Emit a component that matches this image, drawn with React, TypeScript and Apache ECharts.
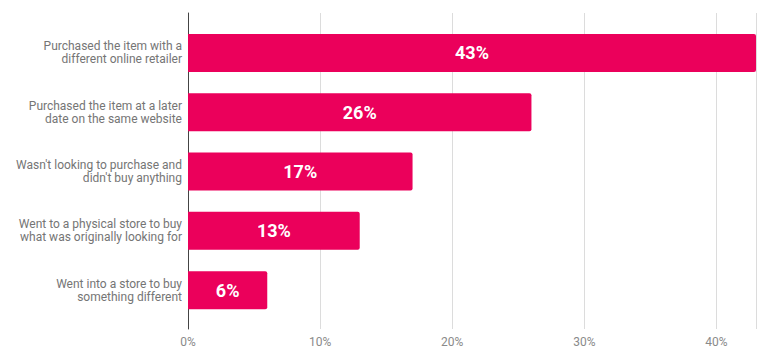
import React, { useEffect, useRef } from "react";
import * as echarts from "echarts";

const categories = [
  "Purchased the item with a\ndifferent online retailer",
  "Purchased the item at a later\ndate on the same website",
  "Wasn't looking to purchase and\ndidn't buy anything",
  "Went to a physical store to buy\nwhat was originally looking for",
  "Went into a store to buy\nsomething different",
];
const values = [43, 26, 17, 13, 6];
const axisMax = 43;
const tickInterval = 10;

export default function App() {
  const ref = useRef<HTMLDivElement>(null);
  useEffect(() => {
    if (!ref.current) return;
    const chart = echarts.init(ref.current, null, { renderer: "svg" });
    chart.setOption({
      animation: false,
      textStyle: { fontFamily: "Roboto" },
      grid: [
        { left: 188, right: 6, top: 13, bottom: 25 },
        { left: 188, right: 6, top: 23.3, height: 296.5 },
      ],
      xAxis: [
        {
          gridIndex: 0,
          type: "value",
          min: 0,
          max: axisMax,
          interval: tickInterval,
          axisLine: { show: false },
          axisTick: { show: false },
          axisLabel: {
            formatter: "{value}%",
            color: "#8a8a8a",
            fontSize: 12,
            margin: 7,
            fontFamily: "Roboto",
            showMaxLabel: false,
          },
          splitLine: { show: true, lineStyle: { color: "#dcdcdc", width: 1 } },
        },
        {
          gridIndex: 1,
          type: "value",
          min: 0,
          max: axisMax,
          show: false,
        },
      ],
      yAxis: [
        {
          gridIndex: 0,
          type: "value",
          min: 0,
          max: 1,
          axisLine: { show: true, lineStyle: { color: "#444", width: 1 } },
          axisTick: { show: false },
          axisLabel: { show: false },
          splitLine: { show: false },
        },
        {
          gridIndex: 1,
          type: "category",
          data: categories,
          inverse: true,
          axisLine: { show: false },
          axisTick: { show: false },
          splitLine: { show: false },
          axisLabel: {
            color: "#757575",
            fontSize: 12,
            lineHeight: 13,
            margin: 6,
            align: "right",
            fontFamily: "Roboto",
          },
        },
      ],
      series: [
        {
          type: "bar",
          xAxisIndex: 1,
          yAxisIndex: 1,
          data: values,
          barWidth: 38,
          itemStyle: { color: "#eb005b", borderRadius: [0, 2, 2, 0] },
          label: {
            show: true,
            position: "inside",
            formatter: "{c}%",
            color: "#ffffff",
            fontSize: 18,
            fontWeight: "bold",
            fontFamily: "Roboto",
          },
        },
      ],
    });
    return () => chart.dispose();
  }, []);
  return <div ref={ref} style={{ width: 762, height: 354, position: "absolute", left: 0, top: 0 }} />;
}
